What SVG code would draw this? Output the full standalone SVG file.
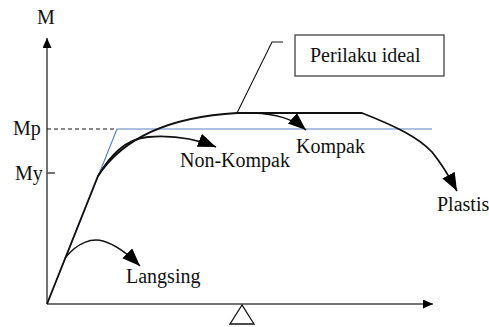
<svg xmlns="http://www.w3.org/2000/svg" width="489" height="327" viewBox="0 0 489 327">
<defs>
<style>
.axis{stroke:#444;stroke-width:1.5;fill:none}
.crv{stroke:#111;stroke-width:1.5;fill:none}
.main{stroke:#111;stroke-width:1.8;fill:none}
.blue{stroke:#5b83c4;stroke-width:1.2;fill:none}
.t{font-family:"Liberation Serif","DejaVu Serif","Times New Roman",serif;font-size:20px;fill:#111}
</style>
<marker id="big" markerUnits="userSpaceOnUse" markerWidth="20" markerHeight="16" refX="18" refY="7" orient="auto" viewBox="0 0 20 16">
<path d="M0,0 L18,7 L0,14 z" fill="#000"/>
</marker>
<marker id="ax" markerUnits="userSpaceOnUse" markerWidth="12" markerHeight="10" refX="10" refY="4.5" orient="auto" viewBox="0 0 12 10">
<path d="M0,0 L10,4.5 L0,9 z" fill="#000"/>
</marker>
</defs>
<g id="axes">
<line class="axis" x1="47" y1="304" x2="47" y2="38" marker-end="url(#ax)"/>
<line class="axis" x1="47" y1="304" x2="433" y2="304" marker-end="url(#ax)"/>
<line x1="47" y1="129" x2="117" y2="129" stroke="#111" stroke-width="1.2" stroke-dasharray="4,3"/>
<line class="axis" x1="47" y1="173" x2="55" y2="173"/>
<polygon points="242,305 230,324 254,324" fill="#fff" stroke="#111" stroke-width="1.3"/>
</g>
<g id="labels">
<text class="t" x="46" y="24" text-anchor="middle">M</text>
<text class="t" x="13" y="135">Mp</text>
<text class="t" x="15" y="180">My</text>
</g>
<g id="ideal">
<polyline class="blue" points="47,304 117,129 432,129"/>
</g>
<g id="connectors">
<path class="main" d="M47,304 L98,176 C115,150 150,118 237,113 L362,113 C395,126 418,137 432,152 C441,163 449,176 457,191" marker-end="url(#big)"/>
<path class="main" d="M98,176 C110,156 125,139 148,137 C172,135 196,139 216,147" marker-end="url(#big)"/>
<path class="crv" d="M253,113 C275,114 292,118 306,130" marker-end="url(#big)"/>
<path class="crv" d="M65,258 C78,242 92,238 103,241 C117,245 129,255 140,266" marker-end="url(#big)"/>
<polyline points="283,42 272,42 237,113" fill="none" stroke="#111" stroke-width="1.1"/>
</g>
<g id="perilaku">
<rect x="295" y="35" width="149" height="41" fill="#fff" stroke="#333" stroke-width="1.2"/>
<text class="t" x="310" y="62">Perilaku ideal</text>
</g>
<g id="kompak"><text class="t" x="296" y="153">Kompak</text></g>
<g id="nonkompak"><text class="t" x="180" y="167">Non-Kompak</text></g>
<g id="plastis"><text class="t" x="437" y="211">Plastis</text></g>
<g id="langsing"><text class="t" x="126" y="283">Langsing</text></g>
</svg>
